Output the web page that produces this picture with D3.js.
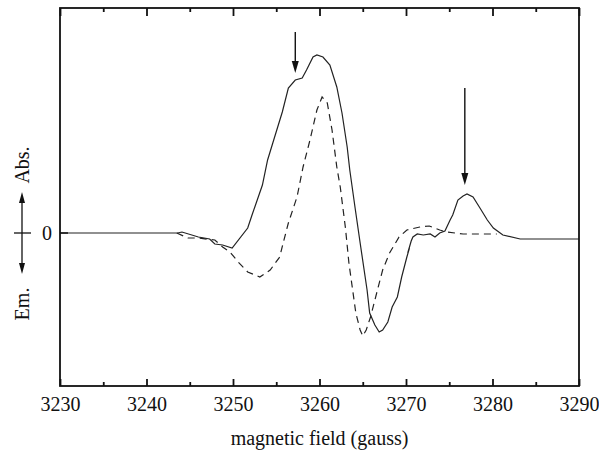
<!DOCTYPE html>
<html>
<head>
<meta charset="utf-8">
<script src="https://d3js.org/d3.v7.min.js"></script>
<style>
  body { margin: 0; background: #fff; }
  text { font-family: "Liberation Serif", "Times New Roman", serif; fill: #111; }
</style>
</head>
<body>
<div id="viz"></div>
<script>
// field axis
var fieldTicks = [3230, 3240, 3250, 3260, 3270, 3280, 3290];
var minorTicks = [3235, 3245, 3255, 3265, 3275, 3285];

// solid trace (field in gauss, signal in arbitrary units)
var solidField = [3230, 3243.6, 3244.1, 3246.0, 3247.3, 3247.9, 3248.8, 3249.9, 3251.7, 3252.2,
  3253.4, 3254.0, 3254.6, 3255.7, 3256.4, 3257.2, 3258.0, 3258.5, 3259.25, 3259.7,
  3260.4, 3261.2, 3262.0, 3262.6, 3263.2, 3263.5, 3264.1, 3264.7, 3265.5, 3265.8, 3266.4,
  3266.9, 3267.3, 3267.9, 3268.4, 3269.0, 3269.5, 3270.1, 3270.4, 3270.2, 3270.6, 3270.8,
  3271.3, 3272.0, 3272.8, 3273.35, 3273.9, 3274.5, 3275.1, 3275.4, 3276.0, 3276.6, 3277.05,
  3277.75, 3278.55, 3279.4, 3280.1, 3281.2, 3283.2, 3290];
var solidSignal = [0, 0, 1, -4, -6, -11, -12, -15, 5, 18,
  48, 73, 90, 121, 145, 153, 155, 163, 176, 178,
  176, 168, 146, 120, 86, 63, 26, -10, -57, -80, -92,
  -99, -97, -89, -74, -64, -44, -24, -15, -20, -8, -4,
  -1, -2, -1, -4, 0, 2, 13, 18, 33, 37, 39,
  36, 25, 13, 5, -2, -6, -6];

// dashed trace
var dashedField = [3243.5, 3244.8, 3245.95, 3247.9, 3248.8, 3249.65, 3250.6, 3251.7, 3253.1,
  3254.3, 3255.4, 3255.8, 3256.4, 3257.4, 3258.1, 3258.9, 3259.7, 3260.3, 3260.9, 3261.45,
  3262.0, 3262.4, 3263.0, 3263.4, 3263.8, 3264.2, 3264.7, 3265.0, 3265.4, 3265.9, 3266.7,
  3267.3, 3268.1, 3269.2, 3270.1, 3271.6, 3272.7, 3273.9, 3274.7, 3276.6, 3278.6, 3280.5];
var dashedSignal = [0, -5, -5, -7, -14, -19, -29, -39, -44,
  -37, -24, -10, 10, 36, 66, 93, 123, 136, 130, 103,
  66, 46, 5, -30, -55, -80, -97, -103, -97, -84, -57,
  -37, -20, -4, 3, 6, 7, 3, 1, -1, -1, -1];

// marker arrows
var arrowField = [3257.2, 3276.8];
var arrowTop = [201, 145];
var arrowTip = [160, 48];

(function () {
  var width = 599, height = 450;
  var mLeft = 60, mRight = 579, mTop = 8, mBottom = 386;

  var svg = d3.select("#viz").append("svg")
    .attr("width", width)
    .attr("height", height);

  var x = d3.scaleLinear().domain([3230, 3290]).range([mLeft, mRight]);
  var y = d3.scaleLinear().domain([-153, 225]).range([mBottom, mTop]);

  // traces
  var line = d3.line()
    .x(function (d) { return x(d[0]); })
    .y(function (d) { return y(d[1]); });

  svg.append("path")
    .datum(d3.zip(dashedField, dashedSignal))
    .attr("d", line)
    .attr("fill", "none")
    .attr("stroke", "#222")
    .attr("stroke-width", 1.2)
    .attr("stroke-dasharray", "7,5");

  svg.append("path")
    .datum(d3.zip(solidField, solidSignal))
    .attr("d", line)
    .attr("fill", "none")
    .attr("stroke", "#222")
    .attr("stroke-width", 1.2);

  // frame
  svg.append("rect")
    .attr("x", mLeft).attr("y", mTop)
    .attr("width", mRight - mLeft).attr("height", mBottom - mTop)
    .attr("fill", "none")
    .attr("stroke", "#111")
    .attr("stroke-width", 1.8);

  // ticks (inward, bottom and top)
  var bottomAxis = svg.append("g")
    .attr("transform", "translate(0," + mBottom + ")")
    .call(d3.axisBottom(x).tickValues(fieldTicks).tickSizeInner(-7).tickSizeOuter(0).tickPadding(11).tickFormat(d3.format("d")));
  var bottomMinor = svg.append("g")
    .attr("transform", "translate(0," + mBottom + ")")
    .call(d3.axisBottom(x).tickValues(minorTicks).tickSizeInner(-4).tickSizeOuter(0).tickFormat(""));
  var topAxis = svg.append("g")
    .attr("transform", "translate(0," + mTop + ")")
    .call(d3.axisTop(x).tickValues(fieldTicks).tickSizeInner(-8).tickSizeOuter(0).tickFormat(""));
  var topMinor = svg.append("g")
    .attr("transform", "translate(0," + mTop + ")")
    .call(d3.axisTop(x).tickValues(minorTicks).tickSizeInner(-4).tickSizeOuter(0).tickFormat(""));

  [bottomAxis, bottomMinor, topAxis, topMinor].forEach(function (g) {
    g.select(".domain").remove();
    g.selectAll(".tick line").attr("stroke", "#111").attr("stroke-width", 1.8);
  });
  bottomAxis.selectAll(".tick text")
    .attr("font-size", 20)
    .attr("fill", "#111")
    .style("font-family", "'Liberation Serif', serif");

  // zero tick on the left
  svg.append("line")
    .attr("x1", mLeft).attr("x2", mLeft + 8)
    .attr("y1", y(0)).attr("y2", y(0))
    .attr("stroke", "#111").attr("stroke-width", 1.5);

  svg.append("text")
    .attr("x", 47).attr("y", y(0) + 7)
    .attr("text-anchor", "middle")
    .attr("font-size", 20)
    .text("0");

  // axis title
  svg.append("text")
    .attr("x", (mLeft + mRight) / 2).attr("y", 445)
    .attr("text-anchor", "middle")
    .attr("font-size", 20)
    .text("magnetic field (gauss)");

  // Abs. / Em. labels with double arrow
  var y0 = y(0), ax = 22;
  svg.append("text")
    .attr("transform", "translate(29," + (y0 - 68) + ") rotate(-90)")
    .attr("text-anchor", "middle")
    .attr("font-size", 20)
    .text("Abs.");
  svg.append("text")
    .attr("transform", "translate(29," + (y0 + 71) + ") rotate(-90)")
    .attr("text-anchor", "middle")
    .attr("font-size", 20)
    .text("Em.");

  svg.append("line")
    .attr("x1", ax).attr("x2", ax)
    .attr("y1", y0 - 36).attr("y2", y0 + 36)
    .attr("stroke", "#111").attr("stroke-width", 1.3);
  svg.append("line")
    .attr("x1", 14).attr("x2", 31)
    .attr("y1", y0).attr("y2", y0)
    .attr("stroke", "#111").attr("stroke-width", 1.3);
  svg.append("path")
    .attr("d", "M" + ax + "," + (y0 - 41) + "L" + (ax - 3) + "," + (y0 - 30) + "L" + (ax + 3) + "," + (y0 - 30) + "Z")
    .attr("fill", "#111");
  svg.append("path")
    .attr("d", "M" + ax + "," + (y0 + 41) + "L" + (ax - 3) + "," + (y0 + 30) + "L" + (ax + 3) + "," + (y0 + 30) + "Z")
    .attr("fill", "#111");

  // down arrows marking the features
  arrowField.forEach(function (f, i) {
    var xa = x(f), yt = y(arrowTop[i]), yp = y(arrowTip[i]);
    svg.append("line")
      .attr("x1", xa).attr("x2", xa)
      .attr("y1", yt).attr("y2", yp - 8)
      .attr("stroke", "#111").attr("stroke-width", 1.4);
    svg.append("path")
      .attr("d", "M" + xa + "," + yp + "L" + (xa - 3.5) + "," + (yp - 12) + "L" + (xa + 3.5) + "," + (yp - 12) + "Z")
      .attr("fill", "#111");
  });
})();
</script>
</body>
</html>
